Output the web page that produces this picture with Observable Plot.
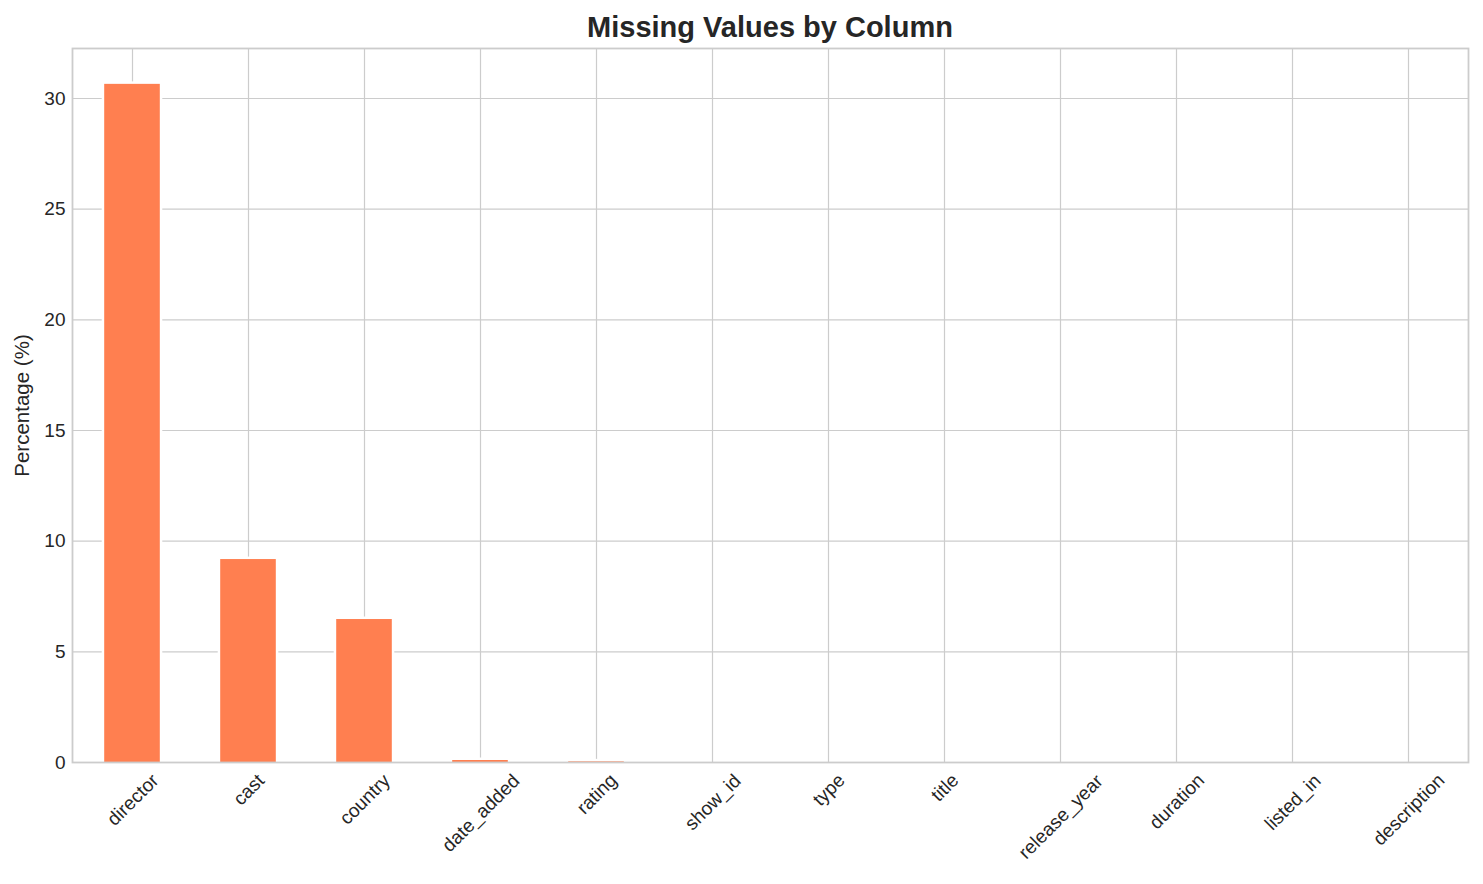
<!DOCTYPE html>
<html>
<head>
<meta charset="utf-8">
<script src="https://cdn.jsdelivr.net/npm/d3@7"></script>
<script src="https://cdn.jsdelivr.net/npm/@observablehq/plot@0.6"></script>
<style>
  html, body { margin: 0; padding: 0; background: #ffffff; }
  body { width: 1483px; height: 884px; overflow: hidden; font-family: "Liberation Sans", Arial, sans-serif; }
  #title {
    box-sizing: border-box; width: 1483px; height: 44px;
    padding: 12.5px 15px 0 72px; text-align: center;
    font-size: 29px; line-height: 29px; font-weight: bold; color: #262626;
  }
  #chart svg { display: block; }
</style>
</head>
<body>
<div id="title">Missing Values by Column</div>
<div id="chart"></div>
<script>
// ---- data ----
const columns = ["director", "cast", "country", "date_added", "rating", "show_id",
                 "type", "title", "release_year", "duration", "listed_in", "description"];
const missingPct = [30.64, 9.17, 6.46, 0.09, 0.03, 0, 0, 0, 0, 0, 0, 0];
const yTicks = [0, 5, 10, 15, 20, 25, 30];
const gridYTicks = [5, 10, 15, 20, 25, 30];
const yLabel = "Percentage (%)";

const rows = columns.map((c, i) => ({column: c, pct: missingPct[i]}));

const plot = Plot.plot({
  width: 1483,
  height: 840,
  marginTop: 4,
  marginBottom: 122,
  marginLeft: 72,
  marginRight: 15,
  style: {fontFamily: "'Liberation Sans', Arial, sans-serif", fontSize: "19px", color: "#262626", background: "#ffffff"},
  x: {domain: columns, paddingInner: 0.5, paddingOuter: 0.25, align: 0.5},
  y: {domain: [0, 32.26]},
  marks: [
    Plot.gridX({stroke: "#cccccc", strokeOpacity: 1, strokeWidth: 1.2}),
    Plot.gridY(gridYTicks, {stroke: "#cccccc", strokeOpacity: 1, strokeWidth: 1.2}),
    Plot.barY(rows, {
      x: "column", y: "pct", fill: "#FF7F50",
      stroke: "#ffffff", strokeWidth: 5, paintOrder: "stroke",
      insetLeft: 1.2, insetRight: 1.2
    }),
    Plot.frame({stroke: "#cccccc", strokeWidth: 1.8}),
    Plot.axisY(yTicks, {
      tickSize: 0, tickPadding: 7, fontSize: 19,
      label: yLabel, labelAnchor: "center", labelArrow: "none", labelOffset: 58
    }),
    Plot.axisX({tickSize: 0, tickPadding: 7, fontSize: 19, label: null})
  ]
});

document.getElementById("chart").append(plot);

// matplotlib-style rotated (45°) centred tick labels
d3.select(plot).selectAll('g[aria-label="x-axis tick label"] text').each(function () {
  const bb = this.getBBox();
  const tr = this.getAttribute("transform") || "";
  const m = /translate\(\s*([-\d.e]+)[ ,]+([-\d.e]+)\s*\)/.exec(tr);
  if (!m) return;
  const x = +m[1], y = +m[2];
  const off = (bb.width + bb.height) * Math.SQRT1_2 / 2;
  d3.select(this)
    .attr("y", null)
    .attr("dy", "0.35em")
    .attr("text-anchor", "middle")
    .attr("transform", `translate(${x},${y + off}) rotate(-45)`);
});
d3.select(plot).selectAll('g[aria-label="y-axis label"] text').attr("font-size", "20.5px");
</script>
</body>
</html>
